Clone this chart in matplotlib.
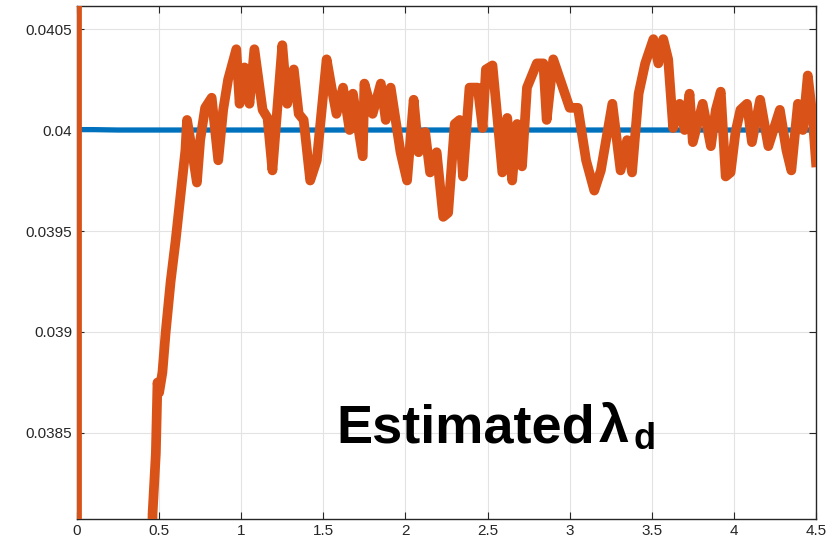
import matplotlib
matplotlib.use('Agg')
import matplotlib.pyplot as plt
import numpy as np

# orange series: estimated lambda_d
t_est = [0, 0, 0.44, 0.46, 0.48, 0.49, 0.50, 0.52, 0.54, 0.57, 0.60, 0.62, 0.66, 0.67,
         0.70, 0.73, 0.75, 0.78, 0.82, 0.86, 0.89, 0.92, 0.97, 0.99, 1.02, 1.05, 1.08,
         1.13, 1.16, 1.19, 1.25, 1.28, 1.32, 1.35, 1.38, 1.42, 1.46, 1.52, 1.55, 1.58,
         1.62, 1.66, 1.68, 1.74, 1.75, 1.80, 1.85, 1.88, 1.91, 1.97, 2.01, 2.05, 2.08,
         2.12, 2.15, 2.19, 2.23, 2.26, 2.30, 2.33, 2.35, 2.39, 2.44, 2.47, 2.49, 2.53,
         2.56, 2.59, 2.62, 2.65, 2.68, 2.71, 2.74, 2.80, 2.84, 2.86, 2.90, 2.95, 3.00,
         3.05, 3.10, 3.15, 3.19, 3.26, 3.31, 3.35, 3.38, 3.42, 3.46, 3.51, 3.54, 3.57,
         3.60, 3.63, 3.67, 3.70, 3.73, 3.75, 3.81, 3.86, 3.89, 3.92, 3.95, 3.98, 4.01,
         4.04, 4.08, 4.11, 4.16, 4.21, 4.28, 4.32, 4.35, 4.39, 4.42, 4.45, 4.48, 4.50]
lam_est = [0.0415, 0.0370, 0.0370, 0.03810, 0.03840, 0.03875, 0.03870, 0.03880, 0.03900,
           0.03925, 0.03945, 0.03960, 0.03990, 0.04005,
           0.03990, 0.03974, 0.03995, 0.04011, 0.04016, 0.03985, 0.04010, 0.04025, 0.04040,
           0.04013, 0.04031, 0.04013, 0.04040, 0.04010, 0.04006, 0.03980, 0.04042, 0.04013,
           0.04030, 0.04008, 0.04005, 0.03975, 0.03985, 0.04035, 0.04021, 0.04008,
           0.04021, 0.04000, 0.04018, 0.03987, 0.04023, 0.04008, 0.04023, 0.04005, 0.04021,
           0.03989, 0.03975, 0.04015, 0.03989, 0.03999, 0.03979, 0.03989, 0.03957, 0.03959,
           0.04003, 0.04005, 0.03977, 0.04021, 0.04021, 0.04001, 0.04030, 0.04032,
           0.04006, 0.03979, 0.04006, 0.03975, 0.04003, 0.03982, 0.04021, 0.04033, 0.04033,
           0.04005, 0.04035, 0.04023, 0.04011, 0.04011, 0.03985, 0.03970, 0.03980, 0.04013,
           0.03980, 0.03995, 0.03979, 0.04018, 0.04033, 0.04045, 0.04033, 0.04045, 0.04035,
           0.04001, 0.04013, 0.04000, 0.04018, 0.03994, 0.04013, 0.03992, 0.04010, 0.04019,
           0.03977, 0.03979, 0.03999, 0.04010, 0.04013, 0.03994, 0.04015, 0.03992, 0.04010,
           0.03990, 0.03980, 0.04013, 0.04000, 0.04027, 0.04006, 0.03984]

# blue series: true lambda_d
t_true = [0, 0.1, 0.25, 0.5, 1.0, 2.0, 3.0, 4.0, 4.5]
lam_true = [0.040002, 0.040002, 0.040000, 0.040000, 0.040000, 0.040000, 0.040000, 0.040000, 0.040000]

xticks = [0, 0.5, 1, 1.5, 2, 2.5, 3, 3.5, 4, 4.5]
xticklabels = ['0', '0.5', '1', '1.5', '2', '2.5', '3', '3.5', '4', '4.5']
yticks = [0.0385, 0.039, 0.0395, 0.04, 0.0405]
yticklabels = ['0.0385', '0.039', '0.0395', '0.04', '0.0405']

plt.rcParams['font.family'] = ['Liberation Sans', 'DejaVu Sans']

fig = plt.figure(figsize=(8.4, 5.42), dpi=100)
ax = fig.add_axes([0.0917, 0.0424, 0.8797, 0.9465])

ax.plot(t_true, lam_true, color='#0072BD', linewidth=3.8, zorder=2)
ax.plot(t_est, lam_est, color='#D95319', linewidth=7, zorder=3,
        solid_joinstyle='round')

ax.set_xlim(0, 4.5)
ax.set_ylim(0.038074, 0.040614)
ax.set_xticks(xticks)
ax.set_xticklabels(xticklabels)
ax.set_yticks(yticks)
ax.set_yticklabels(yticklabels)
ax.grid(True, color='#e3e3e3', linewidth=0.8)
ax.set_axisbelow(True)
ax.tick_params(direction='in', top=True, right=True, labelsize=11, length=5,
               color='#262626', labelcolor='#262626')
for s in ax.spines.values():
    s.set_color('#262626')
    s.set_linewidth(1.0)

ax.text(1.58, 0.038455, 'Estimated', fontsize=39, fontweight='bold', color='black',
        ha='left', va='baseline', zorder=5)
ax.text(3.18, 0.038455, 'λ', fontsize=39, fontweight='bold', color='black',
        ha='left', va='baseline', zorder=5)
ax.text(3.386, 0.038420, 'd', fontsize=26, fontweight='bold', color='black',
        ha='left', va='baseline', zorder=5)

fig.savefig('out.png', dpi=100)
